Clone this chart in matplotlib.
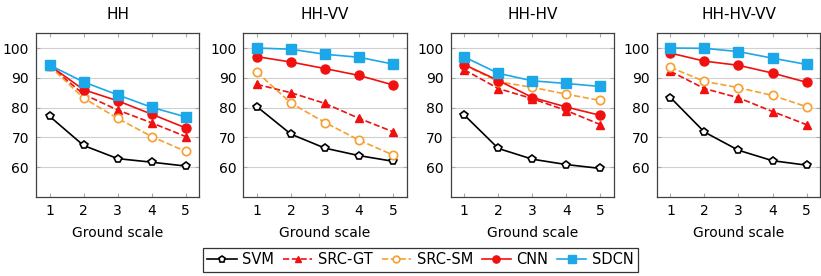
import numpy as np
import matplotlib
matplotlib.use('Agg')
import matplotlib.pyplot as plt
import matplotlib.ticker as ticker

plt.rcParams['font.family'] = ['DejaVu Sans']

scales = [1, 2, 3, 4, 5]
titles = ['HH', 'HH-VV', 'HH-HV', 'HH-HV-VV']
methods = ['SVM', 'SRC-GT', 'SRC-SM', 'CNN', 'SDCN']

# accuracy per panel, per method
svm = [[77.1, 67.3, 62.9, 61.7, 60.4],
       [80.3, 71.1, 66.4, 63.9, 62.0],
       [77.5, 66.3, 62.7, 60.9, 59.6],
       [83.4, 71.8, 65.7, 62.2, 60.7]]
src_gt = [[94.0, 84.5, 79.2, 74.9, 70.3],
          [87.8, 85.0, 81.4, 76.4, 71.9],
          [92.7, 86.4, 83.0, 79.0, 74.3],
          [92.2, 86.4, 83.3, 78.7, 74.3]]
src_sm = [[94.0, 83.2, 76.4, 70.3, 65.3],
          [91.9, 81.5, 75.0, 69.1, 64.1],
          [94.3, 88.7, 86.8, 84.5, 82.4],
          [93.5, 88.8, 86.7, 84.1, 80.3]]
cnn = [[94.2, 86.0, 82.3, 77.8, 73.2],
       [97.1, 95.3, 93.1, 90.8, 87.6],
       [94.4, 89.1, 83.4, 80.2, 77.4],
       [98.3, 95.6, 94.2, 91.6, 88.5]]
sdcn = [[94.3, 88.6, 84.3, 80.1, 76.9],
        [100.0, 99.6, 97.9, 96.9, 94.6],
        [97.0, 91.5, 89.0, 88.1, 87.1],
        [100.0, 99.9, 98.8, 96.6, 94.5]]

data = [svm, src_gt, src_sm, cnn, sdcn]
styles = [
    dict(color='black', ls='-', marker='p', mfc='white', mec='black', ms=6, mew=1.2),
    dict(color='#f01010', ls='--', marker='^', mfc='#f01010', mec='#f01010', ms=6),
    dict(color='#f5a030', ls='--', marker='o', mfc='white', mec='#f5a030', ms=6, mew=1.2),
    dict(color='#f01010', ls='-', marker='o', mfc='#f01010', mec='#f01010', ms=6.5),
    dict(color='#1ca8e8', ls='-', marker='s', mfc='#1ca8e8', mec='#1ca8e8', ms=6.5),
]

fig = plt.figure(figsize=(8.21, 2.76), dpi=100)
lefts = [0.0438, 0.2964, 0.549, 0.800]
handles = []
for p in range(4):
    ax = fig.add_axes([lefts[p], 0.286, 0.199, 0.594])
    for m in range(5):
        h, = ax.plot(scales, data[m][p], lw=1.2, label=methods[m], **styles[m])
        if p == 0:
            handles.append(h)
    ax.set_xlim(0.6, 5.4)
    ax.set_ylim(50, 105)
    ax.xaxis.set_major_locator(ticker.FixedLocator(scales))
    ax.yaxis.set_major_locator(ticker.FixedLocator([60, 70, 80, 90, 100]))
    ax.grid(axis='y', color='#d0d0d0', lw=0.8)
    ax.set_axisbelow(True)
    ax.tick_params(direction='in', color='#aaaaaa', length=3, labelsize=10,
                   top=True, right=True, pad=5)
    for s in ax.spines.values():
        s.set_color('#404040')
        s.set_linewidth(0.9)
    ax.set_title(titles[p], fontsize=11, pad=10)
    ax.set_xlabel('Ground scale', fontsize=10, labelpad=6)

leg = fig.legend(handles=handles, loc='lower center', bbox_to_anchor=(0.5125, 0.015),
                 ncol=5, fontsize=10.5, frameon=True, fancybox=False,
                 handlelength=2.0, handletextpad=0.4, columnspacing=0.6,
                 borderpad=0.3, borderaxespad=0, markerscale=0.8)
leg.get_frame().set_edgecolor('black')
leg.get_frame().set_linewidth(0.9)

fig.savefig('out.png', dpi=100)
